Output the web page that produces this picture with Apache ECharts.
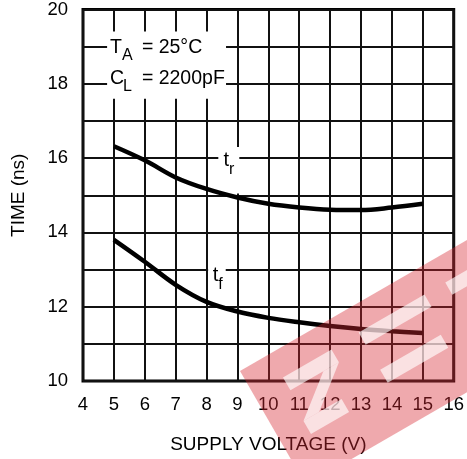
<!DOCTYPE html>
<html>
<head>
<meta charset="utf-8">
<script src="https://cdn.jsdelivr.net/npm/echarts@6/dist/echarts.min.js"></script>
<style>
html,body{margin:0;padding:0;background:#fff;}
#c{width:467px;height:459px;}
</style>
</head>
<body>
<div id="c"></div>
<script>
// ---- data ----
const voltage = [5, 6, 7, 8, 9, 10, 11, 12, 13, 14, 15];
const riseTime = [16.32, 15.94, 15.48, 15.17, 14.94, 14.77, 14.67, 14.61, 14.60, 14.67, 14.77];
const fallTime = [13.80, 13.21, 12.59, 12.13, 11.87, 11.70, 11.58, 11.48, 11.40, 11.34, 11.29];
const xRange = [4, 16];
const yRange = [10, 20];
const xTitle = 'SUPPLY VOLTAGE (V)';
const yTitle = 'TIME (ns)';

const FONT = 'Liberation Sans, Arial, sans-serif';
const chart = echarts.init(document.getElementById('c'), null, {renderer: 'canvas'});

function pairs(xs, ys) { return xs.map((x, i) => [x, ys[i]]); }

const option = {
  animation: false,
  backgroundColor: '#fff',
  grid: {left: 83, right: 9, top: 7, bottom: 77, show: true, borderColor: '#000', borderWidth: 3, backgroundColor: '#fff'},
  xAxis: {
    type: 'value', min: xRange[0], max: xRange[1], interval: 1,
    axisLine: {show: false}, axisTick: {show: false},
    splitLine: {show: true, lineStyle: {color: '#111', width: 2}},
    axisLabel: {margin: 14, fontSize: 18.5, color: '#000', fontFamily: FONT},
    name: xTitle, nameLocation: 'middle', nameGap: 54,
    nameTextStyle: {fontSize: 19, color: '#000', fontFamily: FONT}
  },
  yAxis: {
    type: 'value', min: yRange[0], max: yRange[1], interval: 1,
    axisLine: {show: false}, axisTick: {show: false},
    splitLine: {show: true, lineStyle: {color: '#111', width: 2}},
    axisLabel: {margin: 15, fontSize: 18.5, color: '#000', fontFamily: FONT,
      formatter: v => (v % 2 === 0 ? String(v) : '')},
    name: yTitle, nameLocation: 'middle', nameGap: 55,
    nameTextStyle: {fontSize: 19, color: '#000', fontFamily: FONT}
  },
  series: [
    {name: 'tr', type: 'line', data: pairs(voltage, riseTime), smooth: 0.35, showSymbol: false,
     lineStyle: {color: '#000', width: 4.5}, z: 5},
    {name: 'tf', type: 'line', data: pairs(voltage, fallTime), smooth: 0.35, showSymbol: false,
     lineStyle: {color: '#000', width: 4.5}, z: 5}
  ]
};
chart.setOption(option);

// annotation positions anchored to data coordinates
const P = (x, y) => chart.convertToPixel({gridIndex: 0}, [x, y]);
function txt(x, y, s, size, z) {
  return {type: 'text', x: x, y: y, z: z || 6,
    style: {text: s, fontSize: size, fontFamily: FONT, fill: '#000', verticalAlign: 'middle', align: 'left'}};
}
function whiteBox(x0, y0, x1, y1) {
  return {type: 'rect', z: 3, shape: {x: x0, y: y0, width: x1 - x0, height: y1 - y0},
    style: {fill: '#fff'}};
}
const g = [];
const a = P(4.78, 19.41), b = P(8.63, 17.6);
g.push(whiteBox(a[0], a[1], b[0], b[1]));
const tx = P(4.87, 0)[0];
const l1 = P(0, 18.97)[1], l2 = P(0, 18.15)[1];
g.push(txt(tx, l1, 'T', 19.5));
g.push(txt(tx + 12, l1 + 8, 'A', 16));
g.push(txt(tx + 32, l1, '= 25°C', 19.5));
g.push(txt(tx, l2, 'C', 19.5));
g.push(txt(tx + 13, l2 + 8, 'L', 16));
g.push(txt(tx + 32, l2, '= 2200pF', 19.5));
// t_r label
const r0 = P(8.38, 16.3), r1 = P(9.06, 15.05);
g.push(whiteBox(r0[0], r0[1], r1[0], r1[1]));
const rt = P(8.55, 15.93);
g.push(txt(rt[0], rt[1], 't', 20));
g.push(txt(rt[0] + 5.5, rt[1] + 9, 'r', 16));
// t_f label
const f0 = P(8.05, 13.35), f1 = P(8.62, 12.3);
g.push(whiteBox(f0[0], f0[1], f1[0], f1[1]));
const ft = P(8.2, 12.85);
g.push(txt(ft[0], ft[1], 't', 20));
g.push(txt(ft[0] + 5.5, ft[1] + 9, 'f', 16));

// watermark (rotated band with lighter cut-outs)
const pink = 'rgba(215,40,50,0.40)';
const wht = 'rgba(255,255,255,0.65)';
const cut = (pts) => ({type: 'polygon', z: 21, shape: {points: pts}, style: {fill: wht}});
g.push({
  type: 'group', x: 240, y: 371, rotation: Math.PI / 6, z: 20,
  children: [
    {type: 'rect', z: 20, shape: {x: 0, y: 0, width: 320, height: 132}, style: {fill: pink}},
    cut([[34, 27], [90, 27], [90, 42], [34, 42]]),
    cut([[72, 42], [90, 42], [48, 75], [30, 75]]),
    cut([[30, 75], [74, 75], [74, 90], [30, 90]]),
    cut([[122, 26], [198, 26], [198, 40], [122, 40]]),
    cut([[122, 69], [192, 69], [192, 84], [122, 84]]),
    cut([[222, 26], [262, 26], [262, 40], [222, 40]])
  ]
});
chart.setOption({graphic: g});
</script>
</body>
</html>
